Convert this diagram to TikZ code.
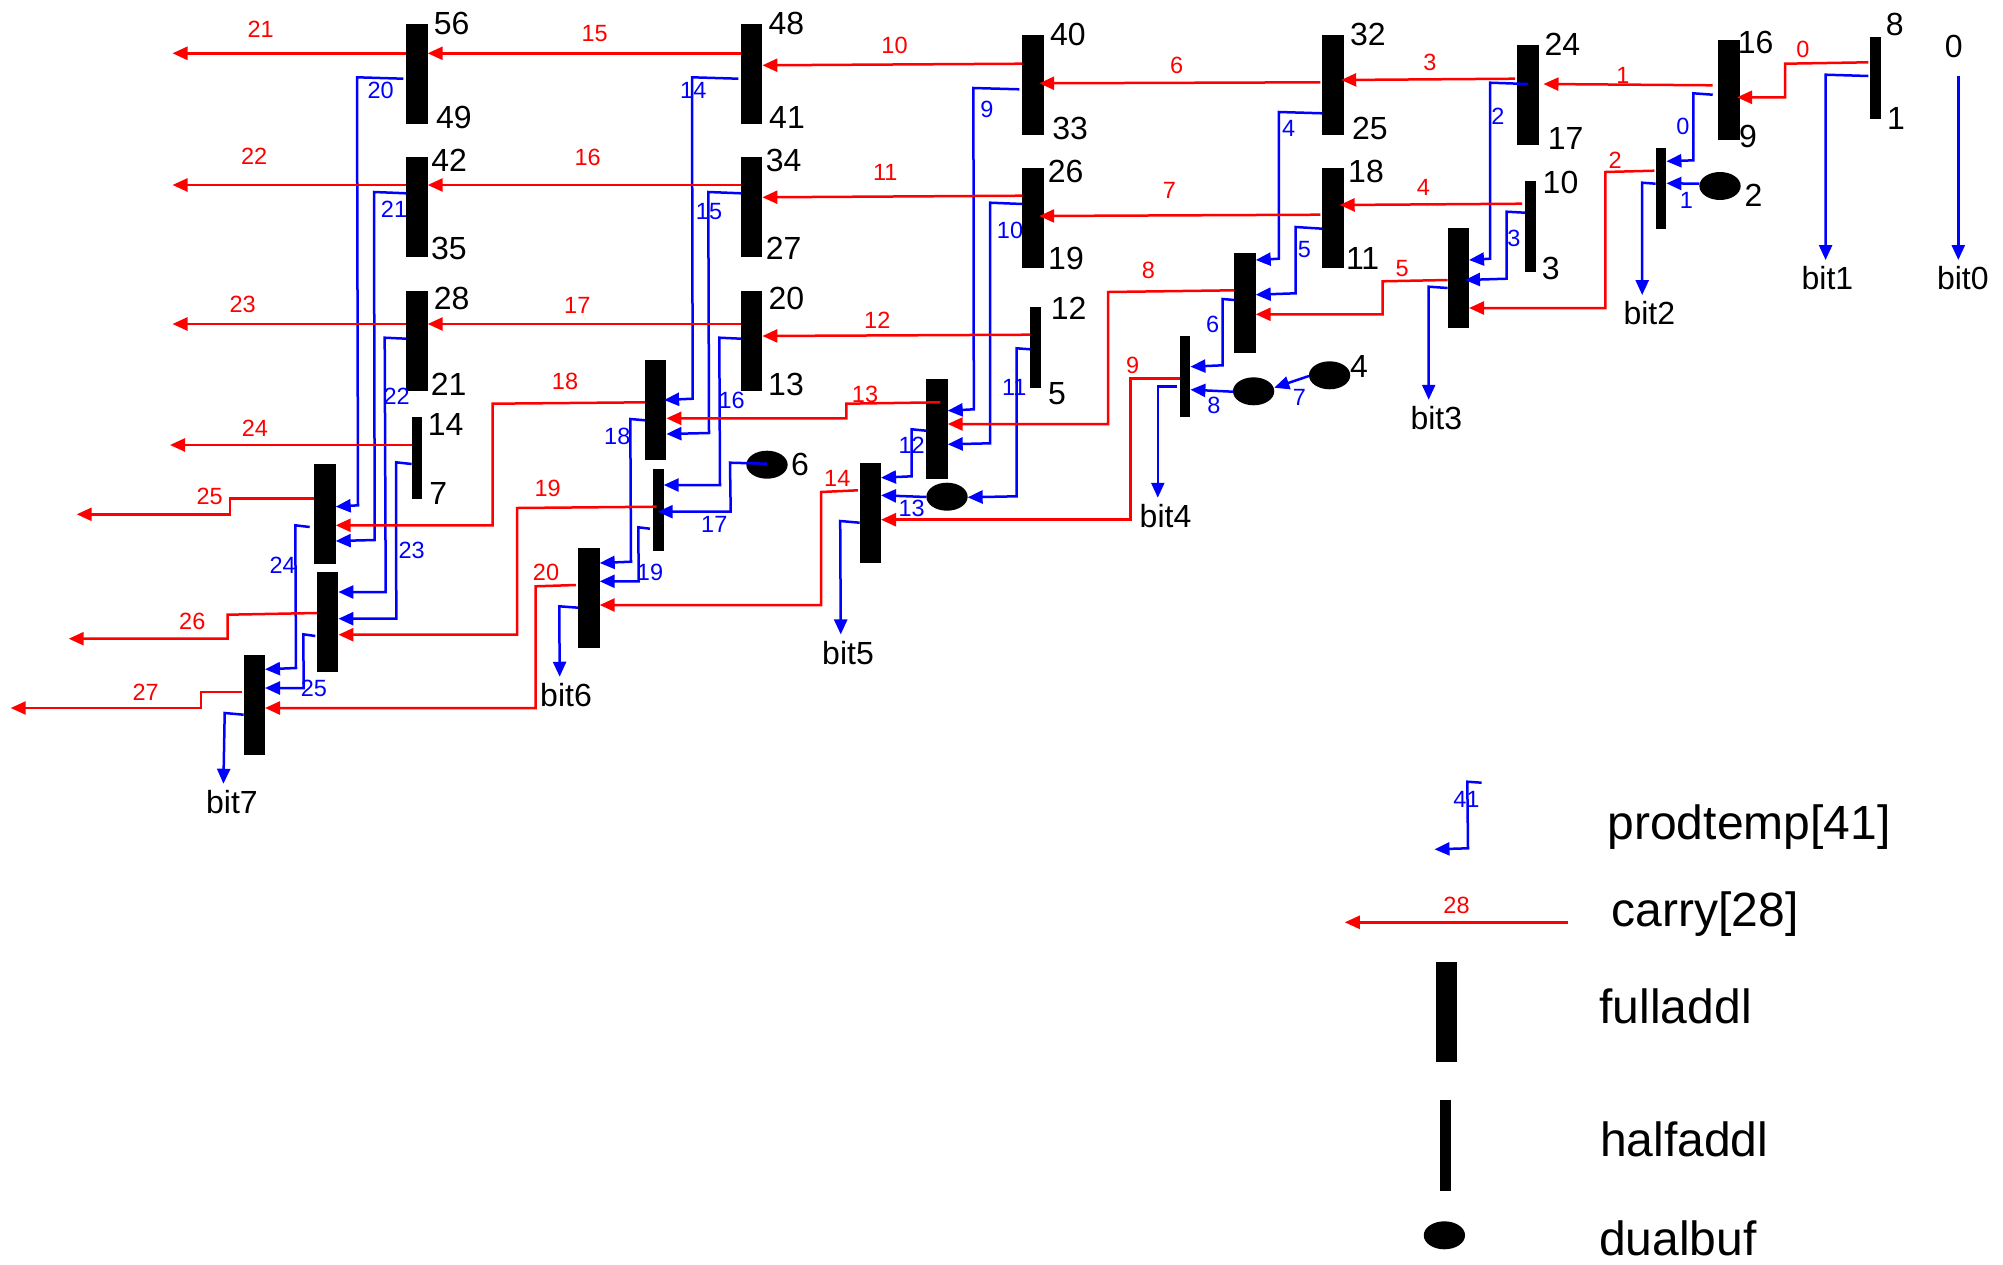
\documentclass[tikz,border=0pt]{standalone}
\usepackage{fontspec}
\setmainfont{Liberation Sans}
\usetikzlibrary{arrows.meta,shapes.geometric}
\tikzset{
 fulladdl/.style={rectangle,fill=black,inner sep=0pt,outer sep=0pt,minimum width=21.4pt,minimum height=100pt},
 halfaddl/.style={rectangle,fill=black,inner sep=0pt,outer sep=0pt,minimum width=10.8pt,minimum height=81.3pt},
 dualbuf/.style={ellipse,fill=black,inner sep=0pt,outer sep=0pt,minimum width=41.3pt,minimum height=28pt},
 redw/.style={draw={rgb,1:red,1;green,0;blue,0},line width=2.5pt,line join=miter,-{Triangle[length=15pt,width=13pt]}},
 bluew/.style={draw={rgb,1:red,0;green,0;blue,1},line width=2.5pt,line join=miter,-{Triangle[length=15pt,width=13pt]}},
 bitw/.style={bluew,shorten >=6.3pt},
 rl/.style={text={rgb,1:red,1;green,0;blue,0},inner sep=0pt,font=\fontsize{23.5}{26}\selectfont},
 bl/.style={text={rgb,1:red,0;green,0;blue,1},inner sep=0pt,font=\fontsize{23.5}{26}\selectfont},
 num/.style={text=black,inner sep=0pt,font=\fontsize{32}{36}\selectfont},
 leg/.style={text=black,inner sep=0pt,anchor=base west,font=\fontsize{48}{54}\selectfont},
}
\begin{document}
\begin{tikzpicture}[x=1pt,y=-1pt]
\useasboundingbox (0,0) rectangle (2003,1264);
% blocks
\node[fulladdl] (b56) at (417,74) {};
\node[fulladdl] (b48) at (751.7,74) {};
\node[fulladdl] (b40) at (1033,84.7) {};
\node[fulladdl] (b32) at (1333,84.7) {};
\node[fulladdl] (b24) at (1527.8,95.3) {};
\node[fulladdl] (b16) at (1728.8,90) {};
\node[halfaddl] (h8) at (1875.8,78) {};
\node[fulladdl] (b42) at (417,207.3) {};
\node[fulladdl] (b34) at (751.7,207.3) {};
\node[fulladdl] (b26) at (1033,218) {};
\node[fulladdl] (b18) at (1333,218) {};
\node[halfaddl,minimum height=90.7pt] (h10) at (1530.5,226.7) {};
\node[halfaddl] (h2) at (1661,188.7) {};
\node[fulladdl] (b28) at (417,340.7) {};
\node[fulladdl] (b20) at (751.7,340.7) {};
\node[halfaddl] (h12) at (1035.7,347.3) {};
\node[fulladdl] (c8) at (1245,303.3) {};
\node[fulladdl] (c5) at (1458.3,278) {};
\node[halfaddl] (h14) at (417,458) {};
\node[fulladdl] (cA) at (325,514) {};
\node[fulladdl] (cB) at (327.7,622) {};
\node[fulladdl] (cC) at (254.3,704.7) {};
\node[fulladdl] (c18) at (655.7,410) {};
\node[halfaddl] (h17) at (658.3,510) {};
\node[fulladdl] (c20) at (589,598) {};
\node[fulladdl] (c13) at (937,428.7) {};
\node[fulladdl] (c14) at (870.3,512.7) {};
\node[halfaddl] (h9) at (1185,376.7) {};
\node[dualbuf] (e2) at (1720,186) {};
\node[dualbuf] (e4) at (1329.6,375.3) {};
\node[dualbuf] (e7) at (1253.6,391.3) {};
\node[dualbuf] (e13) at (947,496.7) {};
\node[dualbuf] (e6) at (767,464.7) {};
\node[fulladdl] (lf) at (1446.2,1011.7) {};
\node[halfaddl,minimum height=90.7pt] (lh) at (1445.3,1145.3) {};
\node[dualbuf] (le) at (1444.4,1235.3) {};
% black numbers
\node[num] (n56) at (451.7,23) {56};
\node[num] (n49) at (453.8,117) {49};
\node[num] (n48) at (786.3,23) {48};
\node[num] (n41) at (787,117) {41};
\node[num] (n42) at (449.2,160.3) {42};
\node[num] (n35) at (448.8,248.2) {35};
\node[num] (n34) at (783.7,160.3) {34};
\node[num] (n27) at (783.7,248.2) {27};
\node[num] (n28) at (451.7,298) {28};
\node[num] (n21) at (448.7,384.5) {21};
\node[num] (n20) at (786.3,298) {20};
\node[num] (n13) at (786,384.5) {13};
\node[num] (n14) at (445.7,424.3) {14};
\node[num] (n7) at (438.3,493.3) {7};
\node[num] (n6) at (800,464) {6};
\node[num] (n40) at (1067.9,34) {40};
\node[num] (n33) at (1070.2,128) {33};
\node[num] (n32) at (1367.9,34) {32};
\node[num] (n25) at (1369.8,128) {25};
\node[num] (n26) at (1065.6,171) {26};
\node[num] (n19) at (1066,258) {19};
\node[num] (n18) at (1366,171) {18};
\node[num] (n11) at (1362.6,258) {11};
\node[num] (n12) at (1068.7,308) {12};
\node[num] (n5) at (1056.9,394) {5};
\node[num] (n4) at (1359,366) {4};
\node[num] (n24) at (1562.3,44) {24};
\node[num] (n17) at (1565.6,138) {17};
\node[num] (n16) at (1755.6,42) {16};
\node[num] (n9) at (1748,136) {9};
\node[num] (n8) at (1894.8,24.3) {8};
\node[num] (n1) at (1896,118) {1};
\node[num] (n0) at (1953.8,46) {0};
\node[num] (n2) at (1753.4,195) {2};
\node[num] (n10) at (1560.5,182) {10};
\node[num] (n3) at (1550.7,268.7) {3};
% bit labels
\node[num] (bit1) at (1827.4,278.3) {bit1};
\node[num] (bit0) at (1962.8,278.3) {bit0};
\node[num] (bit2) at (1649.3,313.3) {bit2};
\node[num] (bit3) at (1436.3,418) {bit3};
\node[num] (bit4) at (1165.5,516) {bit4};
\node[num] (bit5) at (848,652.7) {bit5};
\node[num] (bit6) at (566,695) {bit6};
\node[num] (bit7) at (232,802) {bit7};
% free ends
\coordinate (o21) at (172.5,53.3);
\coordinate (o22) at (172.5,185);
\coordinate (o23) at (172.5,324);
\coordinate (o24) at (170,445);
\coordinate (o25) at (76.7,514.3);
\coordinate (o26) at (68.7,638.7);
\coordinate (o27) at (10.7,708);
\coordinate (ls1) at (1481.6,782.7);
\coordinate (lt1) at (1434.5,849.3);
\coordinate (ls2) at (1568,922.3);
\coordinate (lt2) at (1344.8,922.3);
% blue wires
\draw[bluew] ([xshift=-5.4pt]b16.west|-0,94.7) -- (1693.3,93.3) -- (1693.3,160.3) -- (h2.east|-0,161.3);
\draw[bluew] (e2.west|-0,183.7) -- (h2.east|-0,183.3);
\draw[bitw] ([xshift=-2pt]h8.west|-0,76) -- (1825.6,74.7) -- (1825.6,0|-bit1.north);
\draw[bitw,shorten <=18pt] ([xshift=4.5pt]n0.south) -- (1958.3,0|-bit0.north);
\draw[bitw] (h2.west|-0,183.7) -- (1642.2,182.7) -- (1642.2,0|-bit2.north);
\draw[bluew] (b24.center|-0,84) -- (1490,82.7) -- (1490,258.7) -- (c5.east|-0,260);
\draw[bluew] (h10.west|-0,212.7) -- (1506.7,211.7) -- (1506.7,278.7) -- ([xshift=-4pt]c5.east|-0,280);
\draw[bitw] (c5.west|-0,288) -- (1428.7,286.7) -- (1428.7,0|-bit3.north);
\draw[bluew] (b32.west|-0,113.3) -- (1278.8,112) -- (1278.8,258.7) -- (c8.east|-0,260);
\draw[bluew] (b18.west|-0,228.7) -- (1295.6,227) -- (1295.6,293.3) -- (c8.east|-0,294.7);
\draw[bluew] (c8.west|-0,300) -- (1222.5,299) -- (1222.5,365.3) -- (h9.east|-0,366.7);
\draw[bluew] (e4.west|-0,376) -- (e7.east|-0,387.7);
\draw[bluew] (e7.west|-0,391.7) -- (h9.east|-0,389.7);
\draw[bitw] ([xshift=-2.5pt]h9.west|-0,386.7) -- (1157.8,386.7) -- (1157.8,0|-bit4.north);
\draw[bluew] ([xshift=-3pt]b40.west|-0,89.3) -- (973.4,88) -- (973.8,409.3) -- (c13.east|-0,410.7);
\draw[bluew] (b26.west|-0,204) -- (990.2,202.7) -- (990.2,443.3) -- (c13.east|-0,444.3);
\draw[bluew] (h12.west|-0,349.3) -- (1016.6,348.3) -- (1016.6,496.3) -- (e13.east|-0,497.3);
\draw[bluew] (c13.west|-0,430.7) -- (911.7,429.3) -- (911.7,476.3) -- (c14.east|-0,477.7);
\draw[bluew] (e13.west|-0,497) -- (c14.east|-0,495.3);
\draw[bitw] (c14.west|-0,522.7) -- (840.2,521) -- (840.8,0|-bit5.north);
\draw[bluew] ([xshift=-2.7pt]b48.west|-0,78.7) -- (692,77.3) -- (692.7,398.7) -- ([xshift=-2.3pt]c18.east|-0,400);
\draw[bluew] (b34.west|-0,193.3) -- (708.3,192) -- (709,433) -- (c18.east|-0,434);
\draw[bluew] (b20.west|-0,338.7) -- (719.3,337.7) -- (720,485) -- (h17.east|-0,485);
\draw[bluew] (e6.center|-0,463.7) -- (730,462.7) -- (730.7,511.7) -- ([xshift=-6pt]h17.east|-0,511.7);
\draw[bluew] (c18.west|-0,420.3) -- (630.3,419) -- (631,561.7) -- (c20.east|-0,563);
\draw[bluew] ([xshift=-3pt]h17.west|-0,528.7) -- (638.3,527.3) -- (638.7,581.3) -- (c20.east|-0,581.3);
\draw[bitw] (c20.west|-0,607.7) -- (559.3,606.3) -- (559.7,0|-bit6.north);
\draw[bluew] ([xshift=-3pt]b56.west|-0,78.7) -- (357,77.3) -- (358,505.3) -- (cA.east|-0,506.7);
\draw[bluew] (b42.west|-0,193.3) -- (374,192) -- (374.7,540) -- (cA.east|-0,541);
\draw[bluew] (b28.west|-0,338.7) -- (384.7,337.7) -- (385.7,592) -- (cB.east|-0,592);
\draw[bluew] (h14.west|-0,464) -- (396,462.3) -- (396.3,618.7) -- (cB.east|-0,618.7);
\draw[bluew] ([xshift=-4.6pt]cA.west|-0,527) -- (295.3,525.3) -- (296,668) -- (cC.east|-0,669.3);
\draw[bluew] ([xshift=-1.7pt]cB.west|-0,636) -- (303.3,634.3) -- (303.7,688) -- (cC.east|-0,688);
\draw[bitw] (cC.west|-0,714.7) -- (224.7,713) -- (223.3,0|-bit7.north);
\draw[bluew] (ls1) -- (1467.3,781.7) -- (1468,848.3) -- (lt1);
% red wires
\draw[redw] ([xshift=-2pt]h8.west|-0,62.3) -- (1785.2,63.7) -- (1785.2,97.3) -- ([xshift=-2.5pt]b16.east|-0,97.3);
\draw[redw] ([xshift=-5.4pt]b16.west|-0,85.3) -- ([xshift=5pt]b24.east|-0,84);
\draw[redw] ([xshift=-2pt]b24.west|-0,78.7) -- ([xshift=-2.5pt]b32.east|-0,80);
\draw[redw] ([xshift=-3pt]h10.west|-0,203.7) -- ([xshift=-4pt]b18.east|-0,205);
\draw[redw] ([xshift=-1.3pt]h2.west|-0,170.7) -- (1605.4,172) -- (1605.4,308) -- (c5.east|-0,308);
\draw[redw] (c5.west|-0,280) -- (1382.5,281.3) -- (1382.5,314.3) -- (c8.east|-0,314.3);
\draw[redw] ([xshift=-2pt]b32.west|-0,82.3) -- ([xshift=-4.5pt]b40.east|-0,83.3);
\draw[redw] ([xshift=-2pt]b18.west|-0,214.7) -- ([xshift=-4.5pt]b26.east|-0,216);
\draw[redw] (b40.west|-0,63.7) -- (b48.east|-0,65.3);
\draw[redw] (b26.west|-0,195.7) -- (b34.east|-0,197.3);
\draw[redw] (h12.west|-0,334.7) -- (b20.east|-0,336);
\draw[redw] (c8.west|-0,290.3) -- (1108,292) -- (1108,424) -- (c13.east|-0,424);
\draw[redw] (h9.west|-0,378.3) -- (1130.3,378.3) -- (1130.3,519.7) -- (c14.east|-0,519.7);
\draw[redw] ([xshift=14pt]c13.west|-0,402.3) -- (846.3,403.7) -- (846.3,418.3) -- (c18.east|-0,418.3);
\draw[redw] ([xshift=-1.7pt]c14.west|-0,490.3) -- (821,492) -- (821,605) -- (c20.east|-0,605);
\draw[redw] (b48.west|-0,53.3) -- (b56.east|-0,53.3);
\draw[redw] (b34.west|-0,185) -- (b42.east|-0,185);
\draw[redw] (b20.west|-0,324) -- (b28.east|-0,324);
\draw[redw] (c18.west|-0,402.3) -- (492.7,403.7) -- (492.7,525.3) -- (cA.east|-0,525.3);
\draw[redw] ([xshift=3.7pt]h17.west|-0,506.7) -- (517,508) -- (517,634.7) -- (cB.east|-0,634.7);
\draw[redw] ([xshift=-2.3pt]c20.west|-0,585) -- (535.7,586.3) -- (535.7,708) -- (cC.east|-0,708);
\draw[redw] (b56.west|-0,53.3) -- (o21);
\draw[redw] (b42.west|-0,185) -- (o22);
\draw[redw] (b28.west|-0,324) -- (o23);
\draw[redw] (h14.west|-0,445) -- (o24);
\draw[redw] (cA.west|-0,498.3) -- (230,498.3) -- (230,514.3) -- (o25);
\draw[redw] (cB.west|-0,613) -- (227.7,614.7) -- (227.7,638.7) -- (o26);
\draw[redw] ([xshift=-2pt]cC.west|-0,692) -- (201,692) -- (201,708) -- (o27);
\draw[redw] (ls2) -- (lt2);
% red labels
\node[rl] (r0) at (1803,49) {0};
\node[rl] (r1) at (1622.9,75) {1};
\node[rl] (r2) at (1615.2,160.7) {2};
\node[rl] (r3) at (1430,62) {3};
\node[rl] (r4) at (1423.3,187.7) {4};
\node[rl] (r5) at (1402.2,268.3) {5};
\node[rl] (r6) at (1176.6,65) {6};
\node[rl] (r7) at (1169.3,190) {7};
\node[rl] (r8) at (1148.3,270) {8};
\node[rl] (r9) at (1132.6,365) {9};
\node[rl] (r10) at (894.5,45.7) {10};
\node[rl] (r11) at (885.3,172) {11};
\node[rl] (r12) at (877.3,320) {12};
\node[rl] (r13) at (865,394) {13};
\node[rl] (r14) at (837.3,478) {14};
\node[rl] (r15) at (594.7,33.3) {15};
\node[rl] (r16) at (587.7,157.7) {16};
\node[rl] (r17) at (577.3,305.7) {17};
\node[rl] (r18) at (565,381) {18};
\node[rl] (r19) at (547.7,488) {19};
\node[rl] (r20) at (546,572) {20};
\node[rl] (r21) at (260.6,29.4) {21};
\node[rl] (r22) at (254.2,155.8) {22};
\node[rl] (r23) at (242.7,304) {23};
\node[rl] (r24) at (255,428) {24};
\node[rl] (r25) at (209.7,496) {25};
\node[rl] (r26) at (192.3,621) {26};
\node[rl] (r27) at (145.7,692) {27};
\node[rl] (r28) at (1456.5,905.7) {28};
% blue labels
\node[bl] (u0) at (1683,126) {0};
\node[bl] (u1) at (1686.5,200) {1};
\node[bl] (u2) at (1497.8,116.7) {2};
\node[bl] (u3) at (1514,238.3) {3};
\node[bl] (u4) at (1288.7,128) {4};
\node[bl] (u5) at (1304.4,249.3) {5};
\node[bl] (u6) at (1212.6,324.7) {6};
\node[bl] (u7) at (1299.4,397.3) {7};
\node[bl] (u8) at (1214,405) {8};
\node[bl] (u9) at (986.8,109.3) {9};
\node[bl] (u10) at (1010,230) {10};
\node[bl] (u11) at (1014.3,387.3) {11};
\node[bl] (u12) at (911.7,445.7) {12};
\node[bl] (u13) at (911.7,508.7) {13};
\node[bl] (u14) at (693.3,90) {14};
\node[bl] (u15) at (709,212) {15};
\node[bl] (u16) at (731.7,400.7) {16};
\node[bl] (u17) at (714.3,524) {17};
\node[bl] (u18) at (617.3,436.7) {18};
\node[bl] (u19) at (650,572) {19};
\node[bl] (u20) at (380.7,90) {20};
\node[bl] (u21) at (394,209.3) {21};
\node[bl] (u22) at (396.7,396.7) {22};
\node[bl] (u23) at (411.7,550) {23};
\node[bl] (u24) at (282.7,565) {24};
\node[bl] (u25) at (314,688) {25};
\node[bl] (u41) at (1466.4,799.5) {41};
% legend
\node[leg] (t1) at (1607.4,839.3) {prodtemp[41]};
\node[leg] (t2) at (1611.6,926) {carry[28]};
\node[leg] (t3) at (1599.4,1023) {fulladdl};
\node[leg] (t4) at (1599.8,1156) {halfaddl};
\node[leg] (t5) at (1599,1255.7) {dualbuf};
\end{tikzpicture}
\end{document}
